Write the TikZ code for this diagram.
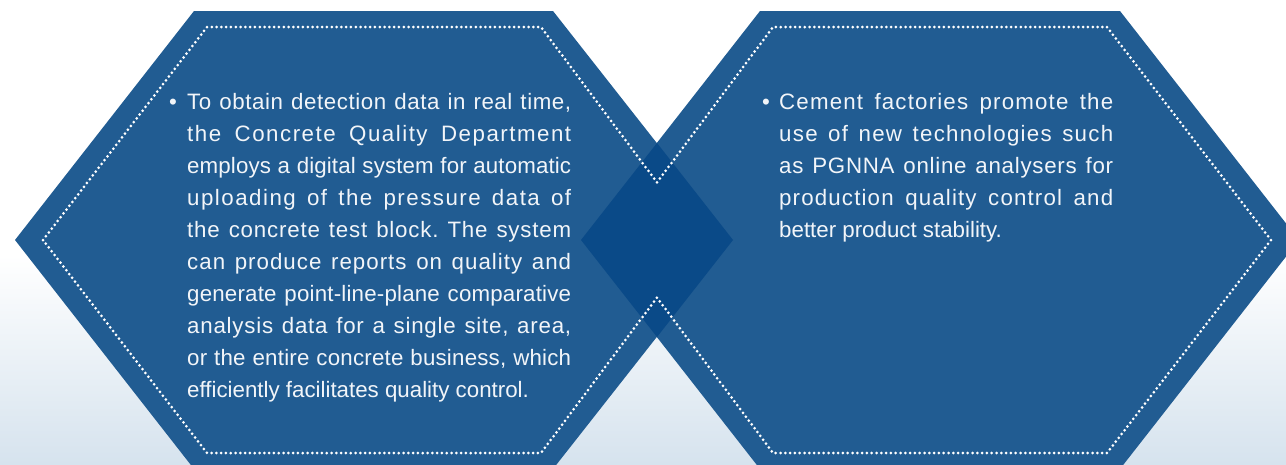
\documentclass[tikz,border=0pt]{standalone}
\usepackage{fontspec}
\setmainfont{Liberation Sans}
\frenchspacing
\definecolor{hexblue}{RGB}{33,92,146}
\definecolor{overlapblue}{RGB}{10,74,136}
\definecolor{bgblue}{RGB}{214,227,238}
\definecolor{textwhite}{RGB}{242,245,249}
\newlength\jwA
\newlength\jwB
\newcommand{\jline}[1]{%
  \settowidth{\jwA}{#1}%
  \settowidth{\jwB}{\addfontfeature{LetterSpace=10}#1}%
  \pgfmathsetmacro{\jls}{7*(\linewidth-\jwA)/(\jwB-\jwA)}%
  \makebox[\linewidth][s]{\addfontfeature{LetterSpace=\jls}#1}}
\tikzset{
  dotline/.style={white, line width=3pt, line cap=round, dash pattern=on 0pt off 4.8pt},
  bodytext/.style={textwhite, inner sep=0pt, anchor=base west, font=\fontsize{22.3}{32}\selectfont}
}
\begin{document}
\begin{tikzpicture}[x=1pt,y=-1pt]
\useasboundingbox (0,0) rectangle (1286,464);
\clip (0,0) rectangle (1286,464);
\fill[white] (0,0) rectangle (1286,464);
\shade[top color=white, bottom color=bgblue] (0,255) rectangle (1286,464);
\fill[hexblue] (15,240) -- (194,11) -- (553,11) -- (733,240) -- (553,469) -- (194,469) -- cycle;
\fill[hexblue] (581,240) -- (760,11) -- (1120,11) -- (1299,240) -- (1120,469) -- (760,469) -- cycle;
\fill[overlapblue] (581,240) -- (657,143) -- (733,240) -- (657,337) -- cycle;
\coordinate (A1) at (43,240);
\coordinate (A2) at (207,27);
\coordinate (A3) at (541,27);
\coordinate (A4) at (700,240);
\coordinate (A5) at (541,453);
\coordinate (A6) at (207,453);
\coordinate (B1) at (614,240);
\coordinate (B2) at (773,27);
\coordinate (B3) at (1107,27);
\coordinate (B4) at (1271,240);
\coordinate (B5) at (1107,453);
\coordinate (B6) at (773,453);
\coordinate (Vtop) at (intersection of A3--A4 and B1--B2);
\coordinate (Vbot) at (intersection of A4--A5 and B6--B1);
\draw[dotline] (A1) -- (A2) -- (A3) -- (Vtop) -- (B2) -- (B3) -- (B4) -- (B5) -- (B6) -- (Vbot) -- (A5) -- (A6) -- cycle;
\node[bodytext, anchor=base] (bulletL) at (173,109) {\textbullet};
\node[bodytext] (textL) at (187,109) {\parbox[t]{384pt}{%
\jline{To obtain detection data in real time,}\\
\jline{the Concrete Quality Department}\\
\jline{employs a digital system for automatic}\\
\jline{uploading of the pressure data of}\\
\jline{the concrete test block. The system}\\
\jline{can produce reports on quality and}\\
\jline{generate point-line-plane comparative}\\
\jline{analysis data for a single site, area,}\\
\jline{or the entire concrete business, which}\\
efficiently facilitates quality control.}};
\node[bodytext, anchor=base] (bulletR) at (766,109) {\textbullet};
\node[bodytext] (textR) at (779,109) {\parbox[t]{334pt}{%
\jline{Cement factories promote the}\\
\jline{use of new technologies such}\\
\jline{as PGNNA online analysers for}\\
\jline{production quality control and}\\
better product stability.}};
\end{tikzpicture}
\end{document}
